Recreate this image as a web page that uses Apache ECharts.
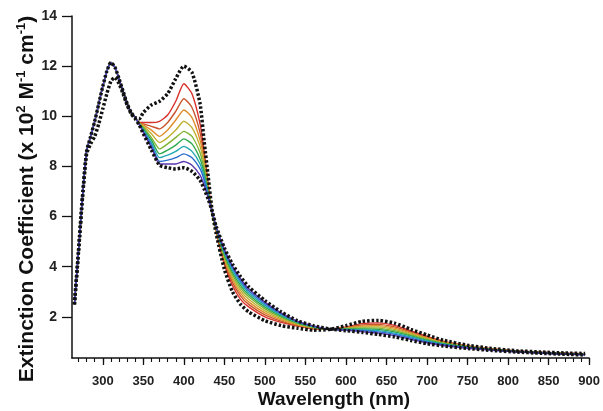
<!DOCTYPE html>
<html lang="en">
<head>
    <meta charset="UTF-8">
    <title>Extinction coefficient</title>
    <script src="https://cdn.jsdelivr.net/npm/echarts@6/dist/echarts.min.js"></script>
</head>
<body style="margin:0;background:#fff">
    <div id="main" style="width:603px;height:411px;"></div>
    <script>
    // short-wavelength flank shared by the coloured traces and the top dotted trace
    var wlCommon = [265, 270, 275, 280, 285, 290, 295, 300, 305, 310, 315, 320, 325, 330, 335, 340];
    var vCommon  = [2.5, 4.6, 6.8, 8.6, 9.2, 9.8, 10.5, 11.2, 11.8, 12.15, 11.95, 11.5, 11.0, 10.5, 10.15, 9.95];
    // flank of the lower dotted trace
    var vFlankB  = [2.5, 4.6, 6.8, 8.5, 8.9, 9.2, 9.7, 10.3, 10.9, 11.4, 11.55, 11.3, 10.9, 10.45, 10.1, 9.9];

    // rest of the spectrum
    var wl = [345, 350, 360, 370, 380, 390, 400, 410, 420, 425, 430, 435, 440, 450, 460, 470, 480, 500,
              520, 540, 560, 580, 600, 620, 640, 660, 680, 700, 720, 750, 780, 810, 840, 870, 895];

    var dotTop = [9.9, 10.15, 10.45, 10.6, 10.9, 11.5, 12.0, 11.75, 10.5, 9.0, 7.6, 6.2, 5.3, 3.9, 3.0, 2.5, 2.2, 1.85,
                  1.65, 1.55, 1.47, 1.5, 1.65, 1.82, 1.86, 1.75, 1.5, 1.28, 1.07, 0.87, 0.74, 0.65, 0.6, 0.56, 0.54];
    var dotLow = [9.65, 9.3, 8.65, 8.05, 7.95, 7.9, 7.95, 7.8, 7.45, 7.1, 6.7, 6.2, 5.6, 4.75, 4.1, 3.6, 3.2, 2.65,
                  2.2, 1.85, 1.65, 1.52, 1.45, 1.38, 1.3, 1.2, 1.06, 0.93, 0.84, 0.74, 0.66, 0.6, 0.55, 0.51, 0.48];

    var c1 = [9.75, 9.75, 9.75, 9.8, 10.05, 10.6, 11.3, 10.9, 9.7, 8.6, 7.3, 6.15, 5.35, 4.1, 3.25, 2.7, 2.4, 2.0,
              1.78, 1.63, 1.52, 1.5, 1.6, 1.73, 1.76, 1.66, 1.44, 1.22, 1.03, 0.85, 0.73, 0.64, 0.59, 0.55, 0.53];
    var c2 = [9.74, 9.7, 9.6, 9.5, 9.75, 10.2, 10.7, 10.35, 9.35, 8.4, 7.2, 6.15, 5.4, 4.2, 3.38, 2.83, 2.5, 2.08,
              1.83, 1.65, 1.53, 1.5, 1.58, 1.68, 1.7, 1.6, 1.4, 1.19, 1.01, 0.84, 0.72, 0.64, 0.59, 0.55, 0.53];
    var c3 = [9.73, 9.65, 9.45, 9.2, 9.45, 9.85, 10.25, 9.95, 9.05, 8.25, 7.15, 6.15, 5.42, 4.28, 3.48, 2.94, 2.6, 2.16,
              1.88, 1.68, 1.55, 1.5, 1.56, 1.64, 1.65, 1.55, 1.36, 1.16, 0.99, 0.83, 0.72, 0.63, 0.58, 0.54, 0.52];
    var c4 = [9.72, 9.6, 9.3, 8.95, 9.15, 9.45, 9.8, 9.55, 8.8, 8.1, 7.05, 6.16, 5.45, 4.35, 3.58, 3.05, 2.7, 2.24,
              1.93, 1.71, 1.57, 1.5, 1.54, 1.6, 1.6, 1.5, 1.32, 1.13, 0.97, 0.82, 0.71, 0.63, 0.58, 0.54, 0.52];
    var c5 = [9.71, 9.55, 9.15, 8.7, 8.9, 9.15, 9.4, 9.2, 8.55, 7.9, 7.0, 6.17, 5.48, 4.42, 3.68, 3.15, 2.8, 2.32,
              1.98, 1.74, 1.58, 1.5, 1.53, 1.56, 1.55, 1.45, 1.28, 1.1, 0.95, 0.81, 0.7, 0.62, 0.57, 0.53, 0.51];
    var c6 = [9.7, 9.5, 9.05, 8.5, 8.65, 8.85, 9.1, 8.9, 8.3, 7.75, 6.95, 6.18, 5.5, 4.5, 3.77, 3.25, 2.88, 2.39,
              2.03, 1.76, 1.6, 1.5, 1.51, 1.52, 1.5, 1.4, 1.24, 1.07, 0.93, 0.8, 0.7, 0.62, 0.57, 0.53, 0.5];
    var c7 = [9.69, 9.45, 8.95, 8.35, 8.45, 8.6, 8.8, 8.6, 8.1, 7.6, 6.9, 6.18, 5.52, 4.57, 3.86, 3.35, 2.96, 2.46,
              2.08, 1.79, 1.61, 1.5, 1.5, 1.48, 1.45, 1.35, 1.2, 1.04, 0.91, 0.78, 0.69, 0.61, 0.56, 0.52, 0.5];
    var c8 = [9.68, 9.4, 8.85, 8.2, 8.25, 8.35, 8.5, 8.35, 7.9, 7.45, 6.8, 6.19, 5.55, 4.63, 3.95, 3.44, 3.04, 2.53,
              2.12, 1.81, 1.62, 1.5, 1.48, 1.45, 1.4, 1.3, 1.15, 1.0, 0.89, 0.77, 0.68, 0.61, 0.56, 0.52, 0.49];
    var c9 = [9.67, 9.35, 8.75, 8.1, 8.1, 8.1, 8.2, 8.05, 7.65, 7.25, 6.75, 6.2, 5.58, 4.7, 4.03, 3.52, 3.12, 2.59,
              2.16, 1.83, 1.64, 1.5, 1.47, 1.41, 1.35, 1.25, 1.1, 0.97, 0.86, 0.75, 0.67, 0.6, 0.55, 0.51, 0.49];

    var colourSet = [c1, c2, c3, c4, c5, c6, c7, c8, c9];
    var colours = ['#d8302a', '#c8542c', '#e08c2c', '#c0b032', '#80b434', '#30a850', '#22a8b0', '#2c6cd0', '#5a36b0'];

    var yTicks = [2, 4, 6, 8, 10, 12, 14];
    var xTicks = [300, 350, 400, 450, 500, 550, 600, 650, 700, 750, 800, 850, 900];
    var xMinor = [];
    for (var t = 270; t <= 900; t += 10) xMinor.push(t);

    function join(prefix, values) {
        var out = wlCommon.map(function (w, i) { return [w, prefix[i]]; });
        return out.concat(wl.map(function (w, i) { return [w, values[i]]; }));
    }

    var series = colourSet.map(function (vals, i) {
        return {
            type: 'line', showSymbol: false, smooth: 0.2, z: 2,
            lineStyle: { color: colours[i], width: 1.4 },
            data: join(vCommon, vals)
        };
    });
    series.push({
        type: 'line', showSymbol: false, smooth: 0.2, z: 3,
        lineStyle: { color: '#111', width: 3.5, type: [2.5, 2] },
        data: join(vFlankB, dotLow)
    });
    series.push({
        type: 'line', showSymbol: false, smooth: 0.2, z: 3,
        lineStyle: { color: '#111', width: 3.5, type: [2.5, 2] },
        data: join(vCommon, dotTop)
    });

    var myChart = echarts.init(document.getElementById('main'));
    var font = 'Liberation Sans, Arial, sans-serif';
    var option = {
        animation: false,
        backgroundColor: '#fff',
        grid: { left: 72, right: 6, top: 16, bottom: 53 },
        xAxis: [{
            type: 'value', min: 262, max: 900,
            axisLine: { lineStyle: { color: '#111', width: 1.5 } },
            axisTick: { customValues: xTicks, length: 7, lineStyle: { color: '#111', width: 1.3 } },
            axisLabel: { customValues: xTicks, margin: 17, color: '#222', fontSize: 13, fontWeight: 'bold', fontFamily: font },
            splitLine: { show: false }
        }, {
            type: 'value', min: 262, max: 900, position: 'bottom',
            axisLine: { show: false },
            axisTick: { customValues: xMinor, length: 4, lineStyle: { color: '#111', width: 1.1 } },
            axisLabel: { show: false },
            splitLine: { show: false }
        }],
        yAxis: {
            type: 'value', min: 0.36, max: 14,
            axisLine: { show: true, lineStyle: { color: '#111', width: 1.5 } },
            axisTick: { show: true, customValues: yTicks, length: 10, lineStyle: { color: '#111', width: 1.3 } },
            axisLabel: { customValues: yTicks, margin: 15, color: '#222', fontSize: 14, fontWeight: 'bold', fontFamily: font },
            splitLine: { show: false }
        },
        graphic: [{
            type: 'text', x: 334, y: 400,
            style: { text: 'Wavelength (nm)', fill: '#111', font: 'bold 19px ' + font, align: 'center', verticalAlign: 'middle' }
        }, {
            type: 'text', x: 27, y: 199, rotation: Math.PI / 2,
            style: {
                text: 'Extinction Coefficient (x 10{s|2} M{s|-1} cm{s|-1})',
                fill: '#111', font: 'bold 21px ' + font, align: 'center', verticalAlign: 'middle',
                rich: { s: { font: 'bold 13px ' + font, fill: '#111', verticalAlign: 'top', padding: [0, 0, 11, 0] } }
            }
        }],
        series: series
    };
    myChart.setOption(option);
    </script>
</body>
</html>
